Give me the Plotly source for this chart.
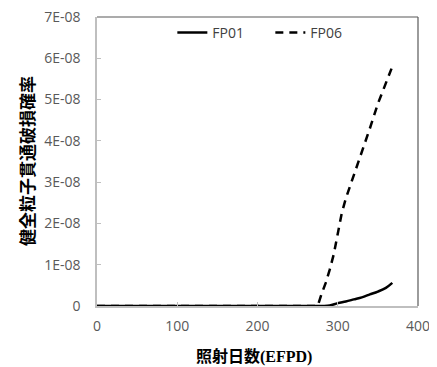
import plotly.graph_objects as go

fp01_days = [0, 50, 100, 150, 200, 250, 280, 290, 300, 310, 320, 330, 340, 350, 360, 368]
fp01_vals = [0, 0, 0, 0, 0, 0, 0, 0.01e-8, 0.07e-8, 0.11e-8, 0.16e-8, 0.21e-8, 0.28e-8, 0.35e-8, 0.44e-8, 0.56e-8]

fp06_days = [0, 50, 100, 150, 200, 250, 270, 275, 280, 285, 290, 295, 300, 305, 310, 315, 320, 330, 340, 350, 360, 367]
fp06_vals = [0, 0, 0, 0, 0, 0, 0, 0, 0.3e-8, 0.56e-8, 0.88e-8, 1.25e-8, 1.75e-8, 2.25e-8, 2.6e-8, 2.88e-8,
             3.15e-8, 3.7e-8, 4.3e-8, 4.9e-8, 5.4e-8, 5.75e-8]

y_tickvals = [0, 1e-8, 2e-8, 3e-8, 4e-8, 5e-8, 6e-8, 7e-8]
y_ticktext = ["0", "1E-08", "2E-08", "3E-08", "4E-08", "5E-08", "6E-08", "7E-08"]
x_tickvals = [0, 100, 200, 300, 400]

x_title = ('<span style="font-family:\'Noto Sans CJK JP\'">照射日数</span>'
           '<span style="font-family:\'Liberation Serif\',serif">(EFPD)</span>')
y_title = "健全粒子貫通破損確率"

fig = go.Figure()
fig.add_trace(go.Scatter(x=fp01_days, y=fp01_vals, mode="lines", name="FP01",
                         line=dict(color="black", width=2.5, shape="spline")))
fig.add_trace(go.Scatter(x=fp06_days, y=fp06_vals, mode="lines", name="FP06",
                         line=dict(color="black", width=2.5, dash="8px,6px")))

tickfont = dict(family="Open Sans, Liberation Sans, sans-serif", size=14, color="#595959")

fig.update_layout(
    width=429, height=359,
    margin=dict(l=89, r=19, t=9, b=61),
    paper_bgcolor="white", plot_bgcolor="white",
    showlegend=True,
    legend=dict(orientation="h", x=0.54, xanchor="center", y=1.0, yanchor="top",
                font=dict(family="Open Sans, Liberation Sans, sans-serif", size=14, color="#404040"),
                bgcolor="rgba(0,0,0,0)", entrywidth=53, entrywidthmode="pixels"),
    xaxis=dict(range=[0, 400], tickvals=x_tickvals, showgrid=False, zeroline=False,
               showline=True, linecolor="#bfbfbf", linewidth=1.5,
               ticks="inside", ticklen=4, tickcolor="#bfbfbf",
               tickfont=tickfont, automargin=False, ticklabelstandoff=6,
               ticklabeloverflow="allow"),
    yaxis=dict(range=[0, 7e-8], tickvals=y_tickvals, ticktext=y_ticktext, showgrid=False,
               zeroline=False, showline=True, linecolor="#bfbfbf", linewidth=1.5,
               ticks="inside", ticklen=4, tickcolor="#bfbfbf",
               tickfont=tickfont, automargin=False, ticklabelstandoff=12,
               ticklabeloverflow="allow"),
    shapes=[
        dict(type="line", xref="paper", yref="paper", x0=0, x1=1, y0=1, y1=1,
             line=dict(color="#595959", width=1.2)),
        dict(type="line", xref="paper", yref="paper", x0=1, x1=1, y0=0, y1=1,
             line=dict(color="#595959", width=1.2)),
    ],
    annotations=[
        dict(text=x_title, xref="paper", yref="paper", x=0.489, y=-0.17,
             xanchor="center", yanchor="middle", showarrow=False,
             font=dict(family="Noto Sans CJK JP", size=16, color="black", weight="bold")),
        dict(text=y_title, xref="paper", yref="paper", x=-0.218, y=0.502, textangle=-90,
             xanchor="center", yanchor="middle", showarrow=False,
             font=dict(family="Noto Sans CJK JP", size=17, color="black", weight="bold")),
    ],
)

fig.write_html("out.html")
